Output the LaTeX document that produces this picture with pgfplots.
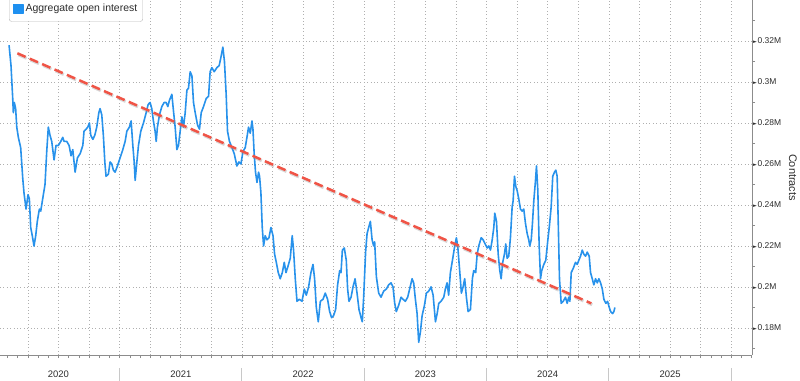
\documentclass[border=0pt]{standalone}
\usepackage{fontspec}
\setmainfont{Liberation Sans}
\newfontfamily\dejavu{DejaVu Sans}
\usepackage{pgfplots}
\pgfplotsset{compat=1.18}
\definecolor{lineblue}{RGB}{40,146,235}
\definecolor{legblue}{RGB}{30,144,240}
\definecolor{trendred}{RGB}{240,84,70}
\definecolor{gridc}{RGB}{175,175,175}
\definecolor{axisc}{RGB}{140,140,140}
\definecolor{txtc}{RGB}{45,45,45}
\definecolor{sepc}{RGB}{200,200,200}
\newcommand{\tri}{{\dejavu\fontsize{5}{5}\selectfont\raisebox{0.3bp}{►}}\hspace{0.6bp}}
% x = years since 1 Jan 2020
\begin{document}
\begin{tikzpicture}
\begin{axis}[
  name=ax,
  at={(0,0)}, anchor=south west,
  scale only axis, width=752bp, height=355bp,
  xmin=0.022, xmax=6.17,
  ymin=166.8, ymax=340,
  axis x line=bottom, axis y line=right,
  axis line style={-, axisc, line width=0.8bp},
  clip=false,
  tick align=outside,
  major tick length=0bp, minor tick length=3bp,
  tick style={axisc, line width=0.6bp},
  xtick={0.5,1.5,2.5,3.5,4.5,5.5},
  xticklabels={2020,2021,2022,2023,2024,2025},
  minor xtick={0.08333,0.16667,...,6.17},
  extra x ticks={0.25,0.5,...,6},
  extra x tick labels={},
  extra x tick style={grid=major},
  xticklabel style={anchor=base, yshift=-22bp, font=\fontsize{9.5}{10}\selectfont, text=txtc},
  ytick={180,200,...,320},
  yticklabels={\tri0.18M,\tri0.2M,\tri0.22M,\tri0.24M,\tri0.26M,\tri0.28M,\tri0.3M,\tri0.32M},
  minor ytick={170,190,...,330},
  ymajorgrids=true,
  yticklabel style={anchor=west, inner sep=0bp, xshift=1bp, font=\fontsize{8.5}{10}\selectfont, text=txtc},
  major grid style={gridc, line width=0.7bp, dash pattern=on 0.8bp off 2.6bp},
  every axis y label/.style={at={(axis description cs:1.0545,0.5)}, anchor=center, rotate=-90, font=\fontsize{11}{12}\selectfont, text=txtc},
  ylabel={Contracts},
  legend style={at={(axis description cs:0.012,0.939)}, anchor=south west, draw=gray!55, fill=white, rounded corners=2.5bp, inner xsep=3.5bp, inner ysep=6bp, font=\fontsize{10.5}{12}\selectfont, text=txtc},
  legend cell align=left,
  legend image code/.code={\fill[legblue, sharp corners] (0bp,-4.6bp) rectangle (9.3bp,4.6bp);},
]
\addplot[lineblue, line width=1.6bp, line join=round] coordinates {
(0.096,318)(0.112,308)(0.126,292)(0.131,285)(0.139,290)(0.150,287)(0.159,278)(0.172,273)(0.191,268)(0.208,253)
(0.218,246)(0.235,238)(0.251,245)(0.262,243)(0.273,229)(0.286,225)(0.300,220)(0.314,225)(0.327,232)(0.344,238)
(0.355,237)(0.371,243)(0.390,250)(0.404,266)(0.417,278)(0.431,274)(0.445,271)(0.464,262)(0.480,269)(0.499,269)
(0.519,271)(0.535,273)(0.546,271)(0.568,271)(0.587,269)(0.603,264)(0.617,267)(0.636,256)(0.655,263)(0.677,265)
(0.699,269)(0.709,276)(0.726,277)(0.740,278)(0.753,280)(0.764,274)(0.781,272)(0.797,274)(0.813,278)(0.830,285)
(0.840,287)(0.854,284)(0.867,274)(0.879,261)(0.889,254)(0.908,255)(0.922,261)(0.936,260)(0.949,257)(0.963,256)
(0.982,259)(1.004,263)(1.026,267)(1.045,271)(1.059,276)(1.080,278)(1.094,281)(1.108,269)(1.119,261)(1.127,252)
(1.141,261)(1.154,269)(1.173,276)(1.195,280)(1.217,285)(1.233,289)(1.249,290)(1.263,287)(1.276,281)(1.290,276)
(1.299,271)(1.309,278)(1.326,284)(1.345,288)(1.364,290)(1.380,290)(1.394,288)(1.407,291)(1.427,294)(1.440,286)
(1.454,278)(1.468,267)(1.481,269)(1.495,276)(1.509,283)(1.522,278)(1.536,285)(1.550,296)(1.563,297)(1.577,305)
(1.591,303)(1.604,290)(1.618,285)(1.637,279)(1.653,277)(1.667,285)(1.686,288)(1.708,292)(1.727,293)(1.740,305)
(1.754,307)(1.773,305)(1.795,307)(1.814,308)(1.828,312)(1.844,317)(1.857,310)(1.871,294)(1.882,276)(1.898,271)
(1.918,268)(1.937,265)(1.959,259)(1.975,261)(1.992,260)(2.008,266)(2.027,268)(2.041,273)(2.054,278)(2.068,275)
(2.082,281)(2.090,277)(2.100,265)(2.111,256)(2.123,251)(2.136,256)(2.144,254)(2.155,246)(2.166,229)(2.177,220)
(2.190,225)(2.204,223)(2.221,224)(2.237,229)(2.254,225)(2.267,216)(2.281,212)(2.297,207)(2.313,204)(2.330,207)
(2.346,212)(2.360,207)(2.376,210)(2.395,214)(2.411,225)(2.422,218)(2.436,204)(2.450,193)(2.469,194)(2.491,193)
(2.510,199)(2.526,196)(2.545,200)(2.564,207)(2.581,211)(2.594,204)(2.608,190)(2.624,183)(2.641,193)(2.663,194)
(2.681,197)(2.700,194)(2.717,188)(2.733,185)(2.749,186)(2.766,189)(2.782,201)(2.799,208)(2.810,207)(2.821,218)
(2.837,219)(2.853,213)(2.864,199)(2.875,193)(2.892,195)(2.908,200)(2.925,204)(2.941,197)(2.957,189)(2.974,185)
(2.984,183)(2.995,195)(3.011,217)(3.023,226)(3.036,229)(3.050,232)(3.064,223)(3.077,220)(3.085,222)(3.099,205)
(3.118,197)(3.137,195)(3.159,198)(3.181,199)(3.199,201)(3.219,202)(3.235,200)(3.249,192)(3.262,188)(3.281,191)
(3.301,195)(3.317,194)(3.336,193)(3.355,195)(3.371,199)(3.391,204)(3.404,202)(3.418,194)(3.432,187)(3.445,173)
(3.459,178)(3.473,186)(3.492,191)(3.508,197)(3.527,198)(3.546,200)(3.563,196)(3.582,183)(3.596,187)(3.609,192)
(3.628,193)(3.650,195)(3.663,199)(3.677,202)(3.690,196)(3.704,207)(3.721,213)(3.737,219)(3.753,224)(3.764,220)
(3.780,208)(3.794,197)(3.808,200)(3.821,204)(3.835,195)(3.849,188)(3.868,189)(3.884,204)(3.895,208)(3.911,207)
(3.923,216)(3.936,220)(3.956,224)(3.972,223)(3.988,221)(4.005,219)(4.018,220)(4.032,218)(4.046,223)(4.059,229)
(4.067,236)(4.081,232)(4.095,216)(4.108,208)(4.119,204)(4.132,212)(4.146,216)(4.157,221)(4.168,214)(4.181,215)
(4.195,224)(4.209,239)(4.217,242)(4.228,254)(4.239,249)(4.250,247)(4.263,243)(4.277,238)(4.291,237)(4.304,238)
(4.318,231)(4.332,226)(4.345,223)(4.353,220)(4.365,223)(4.375,231)(4.386,242)(4.400,252)(4.408,259)(4.419,247)
(4.430,220)(4.441,204)(4.451,208)(4.468,211)(4.484,213)(4.501,223)(4.514,230)(4.528,239)(4.541,254)(4.555,256)
(4.566,257)(4.577,254)(4.586,231)(4.596,204)(4.610,192)(4.627,193)(4.645,195)(4.659,192)(4.672,195)(4.681,193)
(4.692,207)(4.708,209)(4.727,212)(4.741,211)(4.754,213)(4.768,215)(4.782,218)(4.795,216)(4.809,215)(4.823,217)
(4.839,215)(4.850,207)(4.864,204)(4.877,201)(4.891,204)(4.905,202)(4.918,204)(4.932,202)(4.946,199)(4.959,194)
(4.975,192)(4.989,193)(5.003,190)(5.014,188)(5.030,187)(5.041,188)(5.049,190)
};
\addlegendentry{Aggregate open interest}
\addplot[gray, opacity=0.3, line width=3bp, dash pattern=on 9bp off 4.5bp, forget plot] coordinates {(0.172,313.3)(4.864,191.3)};
\addplot[trendred, line width=2.5bp, dash pattern=on 9bp off 4.5bp, forget plot] coordinates {(0.164,314)(4.856,192)};
\coordinate (s1) at (axis cs:1,166.8);
\coordinate (s2) at (axis cs:2,166.8);
\coordinate (s3) at (axis cs:3,166.8);
\coordinate (s4) at (axis cs:4,166.8);
\coordinate (s5) at (axis cs:5,166.8);
\coordinate (s6) at (axis cs:6,166.8);
\end{axis}
\foreach \s in {s1,s2,s3,s4,s5,s6}{
  \draw[sepc, line width=0.9bp] ([yshift=-13bp]\s) -- ([yshift=-27bp]\s);
}
\pgfresetboundingbox
\path[use as bounding box] ([yshift=-26bp]ax.south west) rectangle ([xshift=48bp]ax.north east);
\end{tikzpicture}
\end{document}
